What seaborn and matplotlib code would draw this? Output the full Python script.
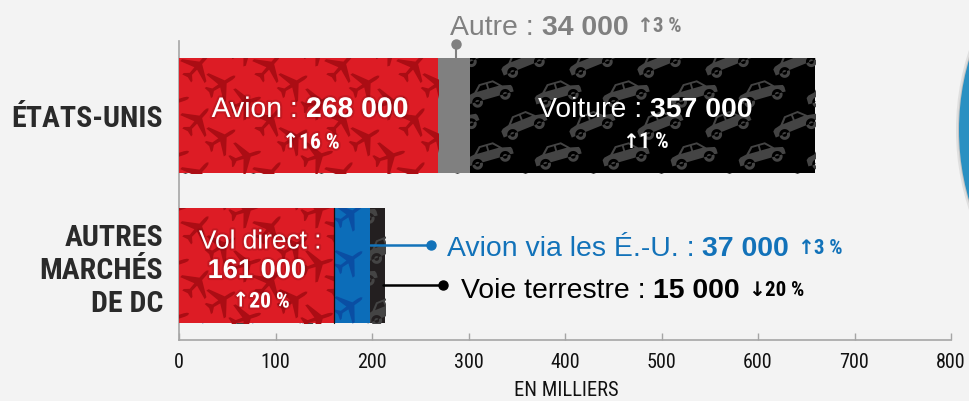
import numpy as np
import pandas as pd
import seaborn as sns
import matplotlib
matplotlib.use("Agg")
import matplotlib.pyplot as plt
from matplotlib.markers import MarkerStyle
from matplotlib.patches import Circle
from matplotlib.path import Path
from matplotlib.transforms import Affine2D
import matplotlib.patheffects as pe

# Valeurs du graphique, en milliers
categories = ["ÉTATS-UNIS", "AUTRES\nMARCHÉS\nDE DC"]
segment_1 = [268, 161]   # Avion / Vol direct
segment_2 = [34, 37]     # Autre / Avion via les É.-U.
segment_3 = [357, 15]    # Voiture / Voie terrestre
x_ticks = [0, 100, 200, 300, 400, 500, 600, 700, 800]

W, H = 969, 401
X0, PX_PER_UNIT = 179, 0.965
Y0, PX_PER_ROW = 115.5, 150

sns.set_theme(style="white")
NARROW = ["Roboto Condensed", "Liberation Sans"]
SANS = "Liberation Sans"
plt.rcParams["font.family"] = [SANS, "DejaVu Sans"]

PAPER = "#f3f3f3"
RED, RED_DK = "#dd1c25", "#ab0d14"
BLUE, BLUE_DK = "#0c6db9", "#0a4ea3"
BLACK, CAR = "#000000", "#444444"
GREY = "#808080"
LINK_BLUE = "#1272b9"

fig = plt.figure(figsize=(W / 100, H / 100), dpi=100, facecolor=PAPER)
ax = fig.add_axes([X0 / W, 1 - 340 / H, 772 / W, 299 / H], facecolor="none")
px = Affine2D().scale(1 / W, -1 / H).translate(0, 1) + fig.transFigure

# le grand disque bleu coupé à droite, avec une ombre légère
fig.add_artist(Circle((1209, 130), 253, transform=px, facecolor="#bbbbbb", alpha=0.35, edgecolor="none"))
fig.add_artist(Circle((1209, 130), 251, transform=px, facecolor="#999999", alpha=0.4, edgecolor="none"))
fig.add_artist(Circle((1209, 130), 250, transform=px, facecolor="#2a90c2", edgecolor="none"))


def ring(cx, cy, r, clockwise=False):
    a = np.linspace(0, 2 * np.pi, 25)
    if clockwise:
        a = a[::-1]
    pts = np.column_stack([cx + r * np.cos(a), cy + r * np.sin(a)])
    return Path(pts, closed=True)


# silhouettes pour les motifs
plane = Path([(0, 10), (0.8, 9), (1.1, 7), (1.1, 3), (10, -3), (10, -4.6), (1.1, -1.6), (0.9, -6), (3.6, -8.6), (3.6, -9.8),
              (0, -8.8), (-3.6, -9.8), (-3.6, -8.6), (-0.9, -6), (-1.1, -1.6), (-10, -4.6), (-10, -3), (-1.1, 3), (-1.1, 7),
              (-0.8, 9), (0, 10)], closed=True)
# contour dans le sens horaire, vitres et moyeux à l'inverse
body = Path([(-10, -2.4), (-10, 0.4), (-9, 1.2), (-6.2, 1.8), (-3.4, 4.6), (2.8, 4.6), (6, 1.4), (9.6, 0.6), (10, -0.4), (10, -2.4), (-10, -2.4)], closed=True)
glass_a = Path([(-5, 1.7), (-0.5, 1.7), (-0.5, 3.8), (-3, 3.8), (-5, 1.7)], closed=True)
glass_b = Path([(0.3, 1.7), (4.6, 1.7), (2.4, 3.8), (0.3, 3.8), (0.3, 1.7)], closed=True)
car = Path.make_compound_path(body, glass_a, glass_b, ring(-6, -2.6, 2.3), ring(-6, -2.6, 1.0, True),
                              ring(6.2, -2.6, 2.3), ring(6.2, -2.6, 1.0, True))


def pattern(bar, shape, color, size, step_x, step_y, angles):
    """Remplit une barre d'un motif répété, découpé à la barre."""
    bx = np.arange(X0 - 30, 850, step_x)
    by = np.arange(30, 345, step_y)
    for i, angle in enumerate(angles):
        gx, gy = np.meshgrid(bx + i * step_x / len(angles), by + i * step_y / len(angles))
        marker = MarkerStyle(shape, transform=Affine2D().rotate_deg(angle))
        sc = ax.scatter((gx.ravel() - X0) / PX_PER_UNIT, (gy.ravel() - Y0) / PX_PER_ROW, marker=marker,
                        s=size, color=color, linewidths=0)
        sc.set_clip_path(bar)
        sc.set_zorder(bar.get_zorder() + 0.5)


def rich(x, y, pieces, color, ha="left", shadow=False):
    """Écrit une ligne de texte à graisses mêlées, coordonnées en pixels."""
    renderer = fig.canvas.get_renderer()
    texts, widths = [], []
    for s, weight, size, family in pieces:
        t = fig.text(x, y, s, transform=px, color=color, fontsize=size, fontweight=weight,
                     family=family, va="center_baseline", ha="left", zorder=6)
        if shadow:
            t.set_path_effects([pe.withStroke(linewidth=3, foreground="#6a0a10", alpha=0.22)])
        texts.append(t)
        widths.append(t.get_window_extent(renderer).width)
    cur = x - (sum(widths) / 2 if ha == "center" else 0)
    for t, w in zip(texts, widths):
        t.set_x(cur)
        cur += w


cum1 = np.array(segment_1)
cum2 = cum1 + np.array(segment_2)
cum3 = cum2 + np.array(segment_3)

# barres empilées : du total vers le premier segment
layers = [(cum3, [BLACK, "#231f20"], 1), (cum2, [GREY, BLUE], 2), (cum1, [RED, RED], 3)]
for values, colors, z in layers:
    df = pd.DataFrame({"cat": categories, "val": values})
    sns.barplot(data=df, x="val", y="cat", hue="cat", order=categories, hue_order=categories,
                palette=dict(zip(categories, colors)), width=115 / PX_PER_ROW, dodge=False,
                legend=False, ax=ax, linewidth=0, saturation=1)
    layer = [c[0] for c in ax.containers[-2:]]
    for b in layer:
        b.set_zorder(z)
        b.set_edgecolor("none")
    if z == 1:
        pattern(layer[0], car, CAR, 1150, 68, 62, [16, 22])
        pattern(layer[1], car, CAR, 1150, 68, 62, [16, 22])
    elif z == 2:
        pattern(layer[1], plane, BLUE_DK, 520, 50, 46, [-55])
    else:
        pattern(layer[0], plane, RED_DK, 560, 72, 54, [-58, -72, -42])
        pattern(layer[1], plane, RED_DK, 560, 72, 54, [-58, -72, -42])
ax.plot([segment_1[1]] * 2, [(208 - Y0) / PX_PER_ROW, (323 - Y0) / PX_PER_ROW], color="#111111", lw=0.9, zorder=4)

ax.set_xlim(0, 772 / PX_PER_UNIT)
ax.set_ylim((340 - Y0) / PX_PER_ROW, (41 - Y0) / PX_PER_ROW)
ax.set_xlabel("")
ax.set_ylabel("")
ax.set_xticks(x_ticks)
ax.set_xticklabels([str(v) for v in x_ticks], family=NARROW, fontsize=14.5, color="#111111")
ax.tick_params(axis="x", direction="in", length=5, width=1, color="#a5a5a5", pad=9, bottom=True)
ax.set_yticks([0, 1])
ax.set_yticklabels(categories, family=NARROW, fontweight="bold", fontsize=21.5, color="#2a2a2a", linespacing=1.22)
ax.tick_params(axis="y", length=0, pad=11.5)
sns.despine(ax=ax)
for side in ["left", "bottom"]:
    ax.spines[side].set_color("#a5a5a5")
    ax.spines[side].set_linewidth(1.2)
fig.text(566 / W, 1 - 391 / H, "EN MILLIERS", family=NARROW, fontsize=14.8, color="#111111", ha="center", va="center")

# liens vers les étiquettes
ax.plot([(456 - X0) / PX_PER_UNIT] * 2, [(58 - Y0) / PX_PER_ROW, (45 - Y0) / PX_PER_ROW], color=GREY, lw=1.5,
        clip_on=False, zorder=4)
ax.plot([(456 - X0) / PX_PER_UNIT], [(44 - Y0) / PX_PER_ROW], "o", color=GREY, ms=6.5, clip_on=False, zorder=4)
ax.plot([(370 - X0) / PX_PER_UNIT, (431 - X0) / PX_PER_UNIT], [(245 - Y0) / PX_PER_ROW] * 2, color=LINK_BLUE, lw=1.8, zorder=4)
ax.plot([(431 - X0) / PX_PER_UNIT], [(245 - Y0) / PX_PER_ROW], "o", color=LINK_BLUE, ms=6.5, zorder=4)
ax.plot([(383 - X0) / PX_PER_UNIT, (443 - X0) / PX_PER_UNIT], [(285 - Y0) / PX_PER_ROW] * 2, color="#000000", lw=1.8, zorder=4)
ax.plot([(443 - X0) / PX_PER_UNIT], [(285 - Y0) / PX_PER_ROW], "o", color="#000000", ms=6.5, zorder=4)

UP, DOWN = "↑", "↓"
B, N = "bold", "normal"
A = "DejaVu Sans"
L = 20.4
ARW = 14.5
rich(450, 25, [("Autre : ", N, L, SANS), ("34 000 ", B, L, SANS), (UP, B, ARW, A), ("3 %", B, 15, NARROW)], GREY)
rich(310, 107, [("Avion : ", N, L, SANS), ("268 000", B, L, SANS)], "white", "center", True)
rich(311, 140, [(UP, B, ARW, A), ("16 %", B, 15.5, NARROW)], "white", "center", True)
rich(645, 107, [("Voiture : ", N, L, SANS), ("357 000", B, L, SANS)], "white", "center")
rich(645, 140, [(UP, B, ARW, A), ("1 %", B, 15.5, NARROW)], "white", "center")
rich(260, 239, [("Vol direct :", N, 18.9, SANS)], "white", "center", True)
rich(257, 268, [("161 000", B, 19.6, SANS)], "white", "center", True)
rich(261, 299, [(UP, B, ARW, A), ("20 %", B, 15.5, NARROW)], "white", "center", True)
rich(447, 246, [("Avion via les É.-U. : ", N, L, SANS), ("37 000 ", B, L, SANS), (UP, B, ARW, A), ("3 %", B, 15, NARROW)], LINK_BLUE)
rich(461, 288, [("Voie terrestre : ", N, L, SANS), ("15 000 ", B, L, SANS), (DOWN, B, ARW, A), ("20 %", B, 15, NARROW)], "#000000")

fig.savefig("out.png", dpi=100, facecolor=PAPER)
